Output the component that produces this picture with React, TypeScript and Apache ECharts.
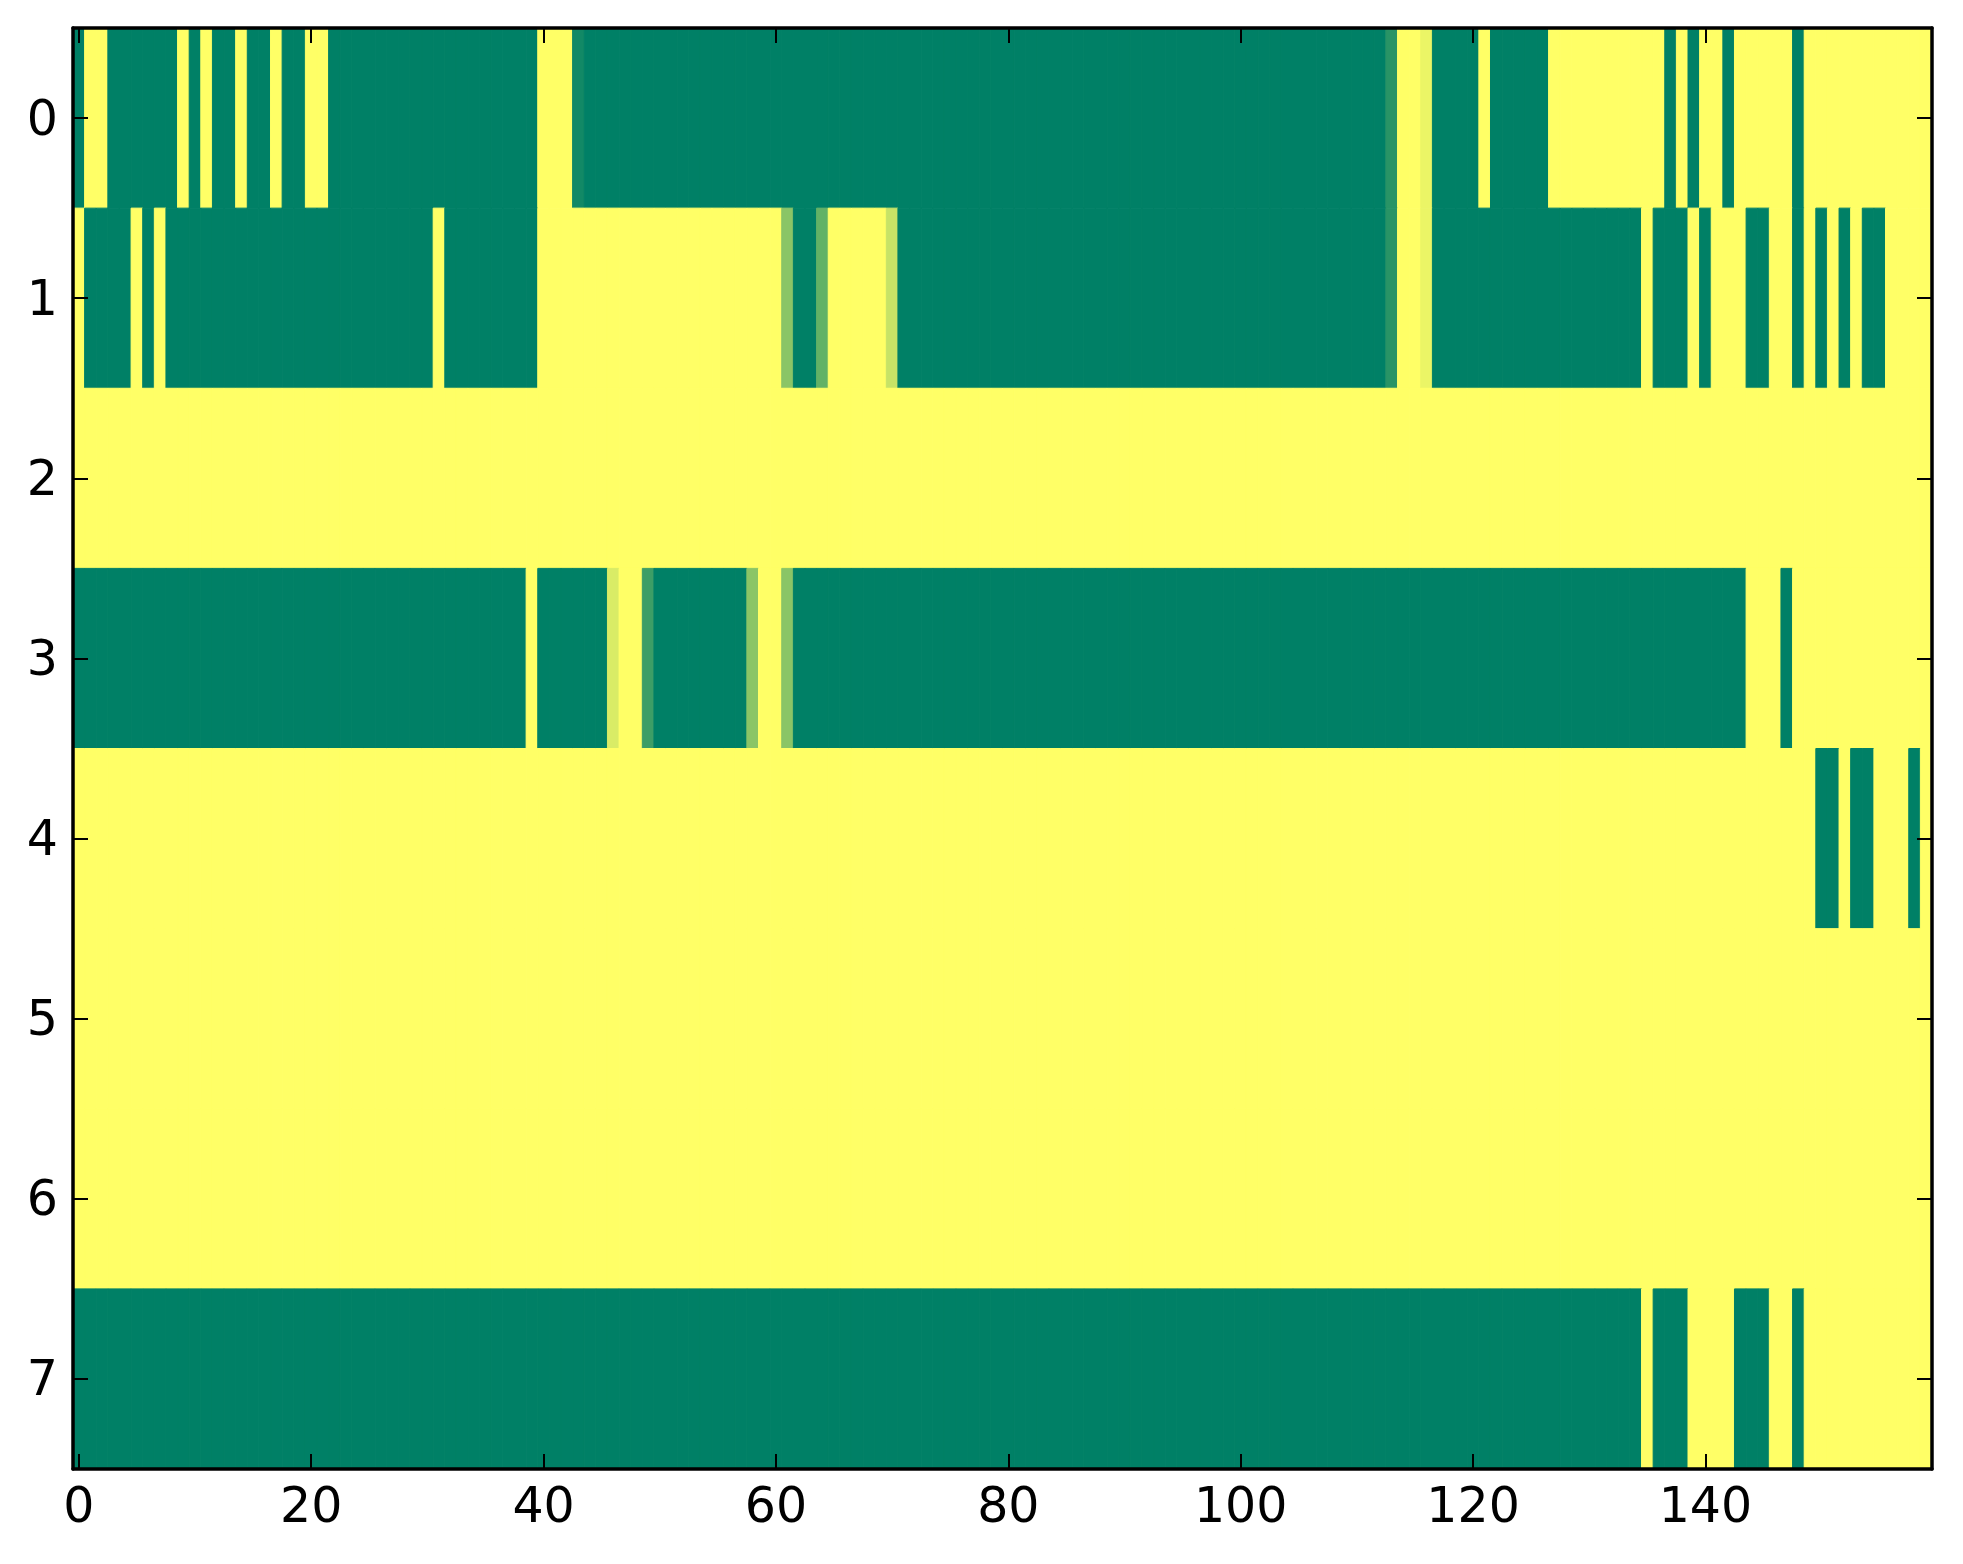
import React, { useEffect, useRef } from "react";
import * as echarts from "echarts";

// Tick labels
const yCategories = ["0", "1", "2", "3", "4", "5", "6", "7"];
const xCategories: string[] = [];
for (let i = 0; i < 160; i++) xCategories.push(String(i));

// Cell values (0 = dark green, 1 = yellow), read column by column, 20 per line
const row0 = [
  0, 1, 1, 0, 0, 0, 0, 0, 0, 1, 0, 1, 0, 0, 1, 0, 0, 1, 0, 0,
  1, 1, 0, 0, 0, 0, 0, 0, 0, 0, 0, 0, 0, 0, 0, 0, 0, 0, 0, 0,
  1, 1, 1, 0.07, 0, 0, 0, 0, 0, 0, 0, 0, 0, 0, 0, 0, 0, 0, 0, 0,
  0, 0, 0, 0, 0, 0, 0, 0, 0, 0, 0, 0, 0, 0, 0, 0, 0, 0, 0, 0,
  0, 0, 0, 0, 0, 0, 0, 0, 0, 0, 0, 0, 0, 0, 0, 0, 0, 0, 0, 0,
  0, 0, 0, 0, 0, 0, 0, 0, 0, 0, 0, 0, 0, 0.16, 1, 1, 0.92, 0, 0, 0,
  0, 1, 0, 0, 0, 0, 0, 1, 1, 1, 1, 1, 1, 1, 1, 1, 1, 0, 1, 0,
  1, 1, 0, 1, 1, 1, 1, 1, 0, 1, 1, 1, 1, 1, 1, 1, 1, 1, 1, 1,
];
const row1 = [
  1, 0, 0, 0, 0, 1, 0, 1, 0, 0, 0, 0, 0, 0, 0, 0, 0, 0, 0, 0,
  0, 0, 0, 0, 0, 0, 0, 0, 0, 0, 0, 1, 0, 0, 0, 0, 0, 0, 0, 0,
  1, 1, 1, 1, 1, 1, 1, 1, 1, 1, 1, 1, 1, 1, 1, 1, 1, 1, 1, 1,
  1, 0.54, 0, 0, 0.39, 1, 1, 1, 1, 1, 0.78, 0, 0, 0, 0, 0, 0, 0, 0, 0,
  0, 0, 0, 0, 0, 0, 0, 0, 0, 0, 0, 0, 0, 0, 0, 0, 0, 0, 0, 0,
  0, 0, 0, 0, 0, 0, 0, 0, 0, 0, 0, 0, 0, 0.16, 1, 1, 0.92, 0, 0, 0,
  0, 0, 0, 0, 0, 0, 0, 0, 0, 0, 0, 0, 0, 0, 0, 1, 0, 0, 0, 1,
  0, 1, 1, 1, 0, 0, 1, 1, 0, 1, 0, 1, 0, 1, 0, 0, 1, 1, 1, 1,
];
const row2 = [
  1, 1, 1, 1, 1, 1, 1, 1, 1, 1, 1, 1, 1, 1, 1, 1, 1, 1, 1, 1,
  1, 1, 1, 1, 1, 1, 1, 1, 1, 1, 1, 1, 1, 1, 1, 1, 1, 1, 1, 1,
  1, 1, 1, 1, 1, 1, 1, 1, 1, 1, 1, 1, 1, 1, 1, 1, 1, 1, 1, 1,
  1, 1, 1, 1, 1, 1, 1, 1, 1, 1, 1, 1, 1, 1, 1, 1, 1, 1, 1, 1,
  1, 1, 1, 1, 1, 1, 1, 1, 1, 1, 1, 1, 1, 1, 1, 1, 1, 1, 1, 1,
  1, 1, 1, 1, 1, 1, 1, 1, 1, 1, 1, 1, 1, 1, 1, 1, 1, 1, 1, 1,
  1, 1, 1, 1, 1, 1, 1, 1, 1, 1, 1, 1, 1, 1, 1, 1, 1, 1, 1, 1,
  1, 1, 1, 1, 1, 1, 1, 1, 1, 1, 1, 1, 1, 1, 1, 1, 1, 1, 1, 1,
];
const row3 = [
  0, 0, 0, 0, 0, 0, 0, 0, 0, 0, 0, 0, 0, 0, 0, 0, 0, 0, 0, 0,
  0, 0, 0, 0, 0, 0, 0, 0, 0, 0, 0, 0, 0, 0, 0, 0, 0, 0, 0, 1,
  0, 0, 0, 0, 0, 0, 0.85, 1, 1, 0.24, 0, 0, 0, 0, 0, 0, 0, 0, 0.54, 1,
  1, 0.54, 0, 0, 0, 0, 0, 0, 0, 0, 0, 0, 0, 0, 0, 0, 0, 0, 0, 0,
  0, 0, 0, 0, 0, 0, 0, 0, 0, 0, 0, 0, 0, 0, 0, 0, 0, 0, 0, 0,
  0, 0, 0, 0, 0, 0, 0, 0, 0, 0, 0, 0, 0, 0, 0, 0, 0, 0, 0, 0,
  0, 0, 0, 0, 0, 0, 0, 0, 0, 0, 0, 0, 0, 0, 0, 0, 0, 0, 0, 0,
  0, 0, 0, 0, 1, 1, 1, 0, 1, 1, 1, 1, 1, 1, 1, 1, 1, 1, 1, 1,
];
const row4 = [
  1, 1, 1, 1, 1, 1, 1, 1, 1, 1, 1, 1, 1, 1, 1, 1, 1, 1, 1, 1,
  1, 1, 1, 1, 1, 1, 1, 1, 1, 1, 1, 1, 1, 1, 1, 1, 1, 1, 1, 1,
  1, 1, 1, 1, 1, 1, 1, 1, 1, 1, 1, 1, 1, 1, 1, 1, 1, 1, 1, 1,
  1, 1, 1, 1, 1, 1, 1, 1, 1, 1, 1, 1, 1, 1, 1, 1, 1, 1, 1, 1,
  1, 1, 1, 1, 1, 1, 1, 1, 1, 1, 1, 1, 1, 1, 1, 1, 1, 1, 1, 1,
  1, 1, 1, 1, 1, 1, 1, 1, 1, 1, 1, 1, 1, 1, 1, 1, 1, 1, 1, 1,
  1, 1, 1, 1, 1, 1, 1, 1, 1, 1, 1, 1, 1, 1, 1, 1, 1, 1, 1, 1,
  1, 1, 1, 1, 1, 1, 1, 1, 1, 1, 0, 0, 1, 0, 0, 1, 1, 1, 0, 1,
];
const row5 = [
  1, 1, 1, 1, 1, 1, 1, 1, 1, 1, 1, 1, 1, 1, 1, 1, 1, 1, 1, 1,
  1, 1, 1, 1, 1, 1, 1, 1, 1, 1, 1, 1, 1, 1, 1, 1, 1, 1, 1, 1,
  1, 1, 1, 1, 1, 1, 1, 1, 1, 1, 1, 1, 1, 1, 1, 1, 1, 1, 1, 1,
  1, 1, 1, 1, 1, 1, 1, 1, 1, 1, 1, 1, 1, 1, 1, 1, 1, 1, 1, 1,
  1, 1, 1, 1, 1, 1, 1, 1, 1, 1, 1, 1, 1, 1, 1, 1, 1, 1, 1, 1,
  1, 1, 1, 1, 1, 1, 1, 1, 1, 1, 1, 1, 1, 1, 1, 1, 1, 1, 1, 1,
  1, 1, 1, 1, 1, 1, 1, 1, 1, 1, 1, 1, 1, 1, 1, 1, 1, 1, 1, 1,
  1, 1, 1, 1, 1, 1, 1, 1, 1, 1, 1, 1, 1, 1, 1, 1, 1, 1, 1, 1,
];
const row6 = [
  1, 1, 1, 1, 1, 1, 1, 1, 1, 1, 1, 1, 1, 1, 1, 1, 1, 1, 1, 1,
  1, 1, 1, 1, 1, 1, 1, 1, 1, 1, 1, 1, 1, 1, 1, 1, 1, 1, 1, 1,
  1, 1, 1, 1, 1, 1, 1, 1, 1, 1, 1, 1, 1, 1, 1, 1, 1, 1, 1, 1,
  1, 1, 1, 1, 1, 1, 1, 1, 1, 1, 1, 1, 1, 1, 1, 1, 1, 1, 1, 1,
  1, 1, 1, 1, 1, 1, 1, 1, 1, 1, 1, 1, 1, 1, 1, 1, 1, 1, 1, 1,
  1, 1, 1, 1, 1, 1, 1, 1, 1, 1, 1, 1, 1, 1, 1, 1, 1, 1, 1, 1,
  1, 1, 1, 1, 1, 1, 1, 1, 1, 1, 1, 1, 1, 1, 1, 1, 1, 1, 1, 1,
  1, 1, 1, 1, 1, 1, 1, 1, 1, 1, 1, 1, 1, 1, 1, 1, 1, 1, 1, 1,
];
const row7 = [
  0, 0, 0, 0, 0, 0, 0, 0, 0, 0, 0, 0, 0, 0, 0, 0, 0, 0, 0, 0,
  0, 0, 0, 0, 0, 0, 0, 0, 0, 0, 0, 0, 0, 0, 0, 0, 0, 0, 0, 0,
  0, 0, 0, 0, 0, 0, 0, 0, 0, 0, 0, 0, 0, 0, 0, 0, 0, 0, 0, 0,
  0, 0, 0, 0, 0, 0, 0, 0, 0, 0, 0, 0, 0, 0, 0, 0, 0, 0, 0, 0,
  0, 0, 0, 0, 0, 0, 0, 0, 0, 0, 0, 0, 0, 0, 0, 0, 0, 0, 0, 0,
  0, 0, 0, 0, 0, 0, 0, 0, 0, 0, 0, 0, 0, 0, 0, 0, 0, 0, 0, 0,
  0, 0, 0, 0, 0, 0, 0, 0, 0, 0, 0, 0, 0, 0, 0, 1, 0, 0, 0, 1,
  1, 1, 1, 0, 0, 0, 1, 1, 0, 1, 1, 1, 1, 1, 1, 1, 1, 1, 1, 1,
];

const rows = [row0, row1, row2, row3, row4, row5, row6, row7];

const FONT = "DejaVu Sans";

export default function App() {
  const ref = useRef<HTMLDivElement>(null);

  useEffect(() => {
    if (!ref.current) return;
    const chart = echarts.init(ref.current, null, { renderer: "svg" });

    const data: number[][] = [];
    rows.forEach((row, y) => row.forEach((v, x) => data.push([x, y, v])));

    const axisLine = { show: true, lineStyle: { color: "#000", width: 3.5 } };
    const tickStyle = { color: "#000", width: 2 };

    const option: any = {
      animation: false,
      backgroundColor: "#ffffff",
      grid: { left: 73, top: 28, width: 1859, height: 1441, containLabel: false },
      visualMap: {
        show: false,
        type: "continuous",
        min: 0,
        max: 1,
        dimension: 2,
        seriesIndex: 0,
        inRange: { color: ["#008066", "#ffff66"] },
      },
      xAxis: [
        {
          type: "category",
          data: xCategories,
          position: "bottom",
          z: 10,
          axisLine,
          axisTick: { show: true, inside: true, length: 15, interval: 19, alignWithLabel: true, lineStyle: tickStyle },
          axisLabel: { show: true, interval: 19, margin: 12, color: "#000", fontSize: 49, fontFamily: FONT },
          splitLine: { show: false },
        },
        {
          type: "category",
          data: xCategories,
          position: "top",
          z: 10,
          axisLine,
          axisTick: { show: true, inside: true, length: 15, interval: 19, alignWithLabel: true, lineStyle: tickStyle },
          axisLabel: { show: false, interval: 19 },
          splitLine: { show: false },
        },
      ],
      yAxis: [
        {
          type: "category",
          data: yCategories,
          inverse: true,
          position: "left",
          z: 10,
          axisLine,
          axisTick: { show: true, inside: true, length: 15, alignWithLabel: true, lineStyle: tickStyle },
          axisLabel: { show: true, margin: 15, color: "#000", fontSize: 49, fontFamily: FONT },
          splitLine: { show: false },
        },
        {
          type: "category",
          data: yCategories,
          inverse: true,
          position: "right",
          z: 10,
          axisLine,
          axisTick: { show: true, inside: true, length: 15, alignWithLabel: true, lineStyle: tickStyle },
          axisLabel: { show: false },
          splitLine: { show: false },
        },
      ],
      series: [
        {
          type: "custom",
          xAxisIndex: 0,
          yAxisIndex: 0,
          encode: { x: 0, y: 1 },
          data,
          renderItem: (params: any, api: any) => {
            const c = api.coord([api.value(0), api.value(1)]);
            const s = api.size([1, 1]);
            const col = api.visual("color");
            return {
              type: "rect",
              shape: { x: c[0] - s[0] / 2, y: c[1] - s[1] / 2, width: s[0], height: s[1] },
              style: { fill: col, stroke: col, lineWidth: 1 },
            };
          },
        },
      ],
    };

    chart.setOption(option);
    return () => chart.dispose();
  }, []);

  return (
    <div
      ref={ref}
      style={{ position: "absolute", left: 0, top: 0, width: 1963, height: 1564, background: "#fff" }}
    />
  );
}
